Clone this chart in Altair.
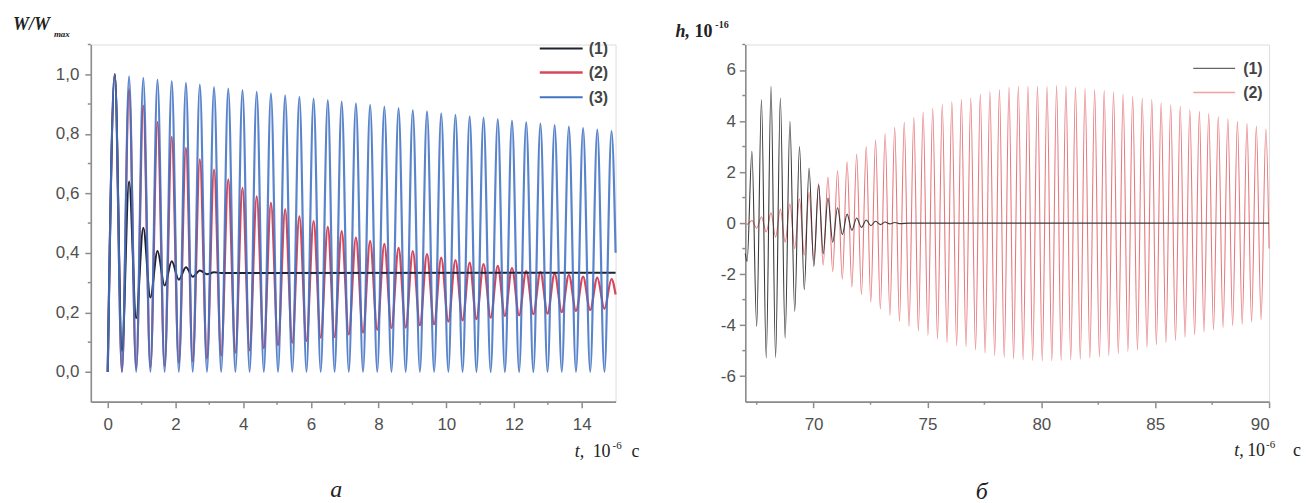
import altair as alt
import pandas as pd

# ---------------- panel "а": W/Wmax vs t (10^-6 s) ----------------
T_TROUGH_A = [0.0, 0.42, 0.84, 1.26, 1.68, 2.10, 2.51, 2.93, 3.35, 3.77, 4.19, 4.61,
              5.03, 5.45, 5.87, 6.29, 6.70, 7.12, 7.54, 7.96, 8.38, 8.80, 9.22, 9.64,
              10.06, 10.48, 10.89, 11.31, 11.73, 12.15, 12.57, 12.99, 13.41, 13.83, 14.25, 14.67]
T_PEAK_A = [0.21, 0.63, 1.05, 1.47, 1.89, 2.31, 2.72, 3.14, 3.56, 3.98, 4.40, 4.82,
            5.24, 5.66, 6.08, 6.50, 6.91, 7.33, 7.75, 8.17, 8.59, 9.01, 9.43, 9.85,
            10.27, 10.69, 11.10, 11.52, 11.94, 12.36, 12.78, 13.20, 13.62, 14.04, 14.46, 14.88]
W3_PEAK = [1.0, 0.993, 0.988, 0.982, 0.977, 0.971, 0.965, 0.957, 0.952, 0.947,
           0.941, 0.936, 0.929, 0.924, 0.918, 0.913, 0.908, 0.902, 0.897, 0.891,
           0.886, 0.880, 0.875, 0.869, 0.864, 0.859, 0.854, 0.849, 0.844, 0.839,
           0.834, 0.829, 0.824, 0.819, 0.814, 0.809]
W3_TROUGH = [0.0, 0.0, 0.0, 0.0, 0.0, 0.0, 0.0, 0.0, 0.0, 0.0, 0.0, 0.0,
             0.0, 0.0, 0.0, 0.0, 0.0, 0.0, 0.0, 0.0, 0.0, 0.0, 0.0, 0.0,
             0.0, 0.0, 0.0, 0.0, 0.0, 0.0, 0.0, 0.0, 0.0, 0.0, 0.0, 0.0]
W2_PEAK = [1.0, 0.95, 0.895, 0.839, 0.79, 0.753, 0.714, 0.68, 0.647, 0.618,
           0.59, 0.568, 0.546, 0.523, 0.507, 0.487, 0.473, 0.451, 0.44, 0.43,
           0.417, 0.406, 0.396, 0.384, 0.376, 0.367, 0.362, 0.356, 0.349, 0.339,
           0.336, 0.33, 0.326, 0.32, 0.317, 0.312]
W2_TROUGH = [0.0, 0.0, 0.01, 0.015, 0.02, 0.03, 0.035, 0.045, 0.055, 0.065,
             0.072, 0.08, 0.09, 0.098, 0.104, 0.115, 0.117, 0.126, 0.132, 0.141,
             0.147, 0.149, 0.157, 0.16, 0.169, 0.173, 0.177, 0.182, 0.188, 0.19,
             0.194, 0.196, 0.201, 0.205, 0.208, 0.212]
T_END_A = 15.0
W3_END = 0.40
W2_END = 0.26
T_W1 = [0.0, 0.21, 0.42, 0.63, 0.84, 1.05, 1.26, 1.47, 1.68, 1.89, 2.10, 2.31,
        2.51, 2.72, 2.93, 3.14, 3.35, 15.0]
W1 = [0.0, 1.0, 0.07, 0.64, 0.18, 0.484, 0.25, 0.406, 0.29, 0.372, 0.31, 0.352,
      0.32, 0.341, 0.328, 0.335, 0.332, 0.333]

X_TICKS_A = [0, 2, 4, 6, 8, 10, 12, 14]
X_MINOR_A = [1, 3, 5, 7, 9, 11, 13]
Y_TICKS_A = [0.0, 0.2, 0.4, 0.6, 0.8, 1.0]
Y_MINOR_A = [0.1, 0.3, 0.5, 0.7, 0.9, 1.1]

# ---------------- panel "б": h (10^-16) vs t (10^-6 s) ----------------
T_TROUGH_B = [67.08, 67.50, 67.92, 68.33, 68.75, 69.17, 69.59, 70.01, 70.42, 70.84,
              71.26, 71.68, 72.10, 72.51, 72.93, 73.35, 73.77, 74.19, 74.60, 75.02,
              75.44, 75.86, 76.28, 76.69, 77.11, 77.53, 77.95, 78.37, 78.78, 79.20,
              79.62, 80.04, 80.46, 80.87, 81.29, 81.71, 82.13, 82.55, 82.96, 83.38,
              83.80, 84.22, 84.64, 85.05, 85.47, 85.89, 86.31, 86.73, 87.14, 87.56,
              87.98, 88.40, 88.82, 89.23, 89.65]
T_PEAK_B = [67.29, 67.71, 68.13, 68.54, 68.96, 69.38, 69.80, 70.22, 70.63, 71.05,
            71.47, 71.89, 72.31, 72.72, 73.14, 73.56, 73.98, 74.40, 74.81, 75.23,
            75.65, 76.07, 76.49, 76.90, 77.32, 77.74, 78.16, 78.58, 78.99, 79.41,
            79.83, 80.25, 80.67, 81.08, 81.50, 81.92, 82.34, 82.76, 83.17, 83.59,
            84.01, 84.43, 84.85, 85.26, 85.68, 86.10, 86.52, 86.94, 87.35, 87.77,
            88.19, 88.61, 89.03, 89.44, 89.86]
H2_TROUGH = [-0.05, -0.2, -0.35, -0.55, -0.75, -1.0, -1.25, -1.45, -1.65, -1.9,
             -2.2, -2.5, -2.8, -3.1, -3.37, -3.62, -3.85, -4.05, -4.23, -4.4,
             -4.55, -4.68, -4.8, -4.84, -4.97, -5.1, -5.19, -5.27, -5.33, -5.36,
             -5.38, -5.4, -5.4, -5.38, -5.36, -5.33, -5.29, -5.25, -5.19, -5.12,
             -5.03, -4.97, -4.87, -4.77, -4.68, -4.6, -4.48, -4.38, -4.27, -4.18,
             -4.09, -4.01, -3.96, -3.88, -3.79]
H2_PEAK = [0.1, 0.25, 0.4, 0.55, 0.75, 0.95, 1.2, 1.55, 1.8, 2.05,
           2.4, 2.7, 3.0, 3.25, 3.5, 3.75, 3.95, 4.15, 4.35, 4.5,
           4.65, 4.75, 4.85, 4.90, 5.06, 5.16, 5.23, 5.32, 5.35, 5.36,
           5.36, 5.35, 5.39, 5.36, 5.32, 5.27, 5.23, 5.19, 5.14, 5.06,
           4.97, 4.90, 4.84, 4.71, 4.64, 4.58, 4.45, 4.38, 4.29, 4.18,
           4.09, 3.99, 3.90, 3.80, 3.69]
T_START_B = 67.0
H2_START = 0.0
T_END_B = 90.0
H2_END = -1.0
H1_TROUGH = [-1.5, -4.05, -5.29, -5.27, -4.51, -3.46, -2.61, -1.7, -1.2, -0.75,
             -0.45, -0.28, -0.17, -0.1, -0.06, -0.03, -0.02]
H1_PEAK = [2.81, 4.84, 5.36, 4.9, 3.99, 3.0, 2.16, 1.5, 0.98, 0.6,
           0.35, 0.2, 0.12, 0.07, 0.04, 0.02]
H1_START = -1.2
H1_TAIL_T = [74.2, 90.0]
H1_TAIL = [0.0, 0.0]

X_TICKS_B = [70, 75, 80, 85, 90]
X_MINOR_B = [67.5, 72.5, 77.5, 82.5, 87.5]
Y_TICKS_B = [-6, -4, -2, 0, 2, 4, 6]
Y_MINOR_B = [-5, -3, -1, 1, 3, 5, 7]

LEGEND_A = ["(1)", "(2)", "(3)"]
LEGEND_B = ["(1)", "(2)"]


def build(pairs):
    rows = sorted(pairs)
    return pd.DataFrame(rows, columns=["t", "v"])


df_w3 = build(list(zip(T_TROUGH_A, W3_TROUGH)) + list(zip(T_PEAK_A, W3_PEAK)) + [(T_END_A, W3_END)])
df_w2 = build(list(zip(T_TROUGH_A, W2_TROUGH)) + list(zip(T_PEAK_A, W2_PEAK)) + [(T_END_A, W2_END)])
df_w1 = build(list(zip(T_W1, W1)))
df_h2 = build([(T_START_B, H2_START)] + list(zip(T_TROUGH_B, H2_TROUGH)) + list(zip(T_PEAK_B, H2_PEAK)) + [(T_END_B, H2_END)])
df_h1 = build([(T_START_B, H1_START)] + list(zip(T_TROUGH_B[:len(H1_TROUGH)], H1_TROUGH))
              + list(zip(T_PEAK_B[:len(H1_PEAK)], H1_PEAK)) + list(zip(H1_TAIL_T, H1_TAIL)))

W_A, W_B, H = 526, 525, 358
AX = "#8c8c8c"
LBL = "#505050"
BLUE, RED, BLACK = "#4273c4", "#d6475a", "#1f2233"
RED_B, BLACK_B = "#e46a6f", "#3a3a3a"


def axis(values, pad, expr):
    return alt.Axis(values=values, title=None, grid=False, domainColor=AX, domainWidth=1.6,
                    tickColor=AX, tickWidth=1.5, tickSize=6, labelPadding=pad,
                    labelFont="Liberation Sans", labelFontSize=17, labelColor=LBL,
                    labelExpr=expr, labelOverlap=False)


comma = "replace(format(datum.value, '.1f'), '.', ',')"
plain = "'' + datum.value"

xA = alt.X("t:Q", scale=alt.Scale(domain=[-0.5, 15], nice=False, zero=False), axis=axis(X_TICKS_A, 9, plain))
yA = alt.Y("v:Q", scale=alt.Scale(domain=[-0.1, 1.1], nice=False, zero=False), axis=axis(Y_TICKS_A, 6, comma))
xB = alt.X("t:Q", scale=alt.Scale(domain=[67, 90], nice=False, zero=False), axis=axis(X_TICKS_B, 9, plain))
yB = alt.Y("v:Q", scale=alt.Scale(domain=[-7, 7], nice=False, zero=False), axis=axis(Y_TICKS_B, 4, plain))


def text(label, x, y, size, style="normal", weight="normal", color="#222", font="Liberation Serif", align="left"):
    return alt.Chart(pd.DataFrame({"s": [label]})).mark_text(
        font=font, fontSize=size, fontStyle=style, fontWeight=weight, color=color,
        align=align, baseline="alphabetic").encode(text="s:N", x=alt.value(x), y=alt.value(y))


def seg(x1, x2, y, color, w):
    return alt.Chart(pd.DataFrame({"a": [0]})).mark_rule(color=color, strokeWidth=w).encode(
        x=alt.value(x1), x2=alt.value(x2), y=alt.value(y))


def minor(xenc, yenc, xs, ys, h):
    mx = alt.Chart(pd.DataFrame({"t": xs})).mark_rule(color=AX, strokeWidth=1.5).encode(
        x=xenc, y=alt.value(h), y2=alt.value(h + 3))
    my = alt.Chart(pd.DataFrame({"v": ys})).mark_rule(color=AX, strokeWidth=1.5).encode(
        y=yenc, x=alt.value(0), x2=alt.value(-3))
    return mx, my


mxA, myA = minor(xA, yA, X_MINOR_A, Y_MINOR_A, H)
mxB, myB = minor(xB, yB, X_MINOR_B, Y_MINOR_B, H)

line = dict(interpolate="monotone")
left = alt.layer(
    alt.Chart(df_w2).mark_line(color=RED, strokeWidth=2.2, **line).encode(x=xA, y=yA),
    alt.Chart(df_w1).mark_line(color=BLACK, strokeWidth=2.0, **line).encode(x=xA, y=yA),
    alt.Chart(df_w3).mark_line(color=BLUE, strokeWidth=2.2, opacity=0.88, **line).encode(x=xA, y=yA),
    mxA, myA,
    seg(450, 493, 4, BLACK, 2), seg(450, 493, 28, RED, 2.5), seg(450, 493, 53, BLUE, 2),
    text(LEGEND_A[0], 499, 10, 16, weight="bold", color="#444", font="Liberation Sans"),
    text(LEGEND_A[1], 499, 34, 16, weight="bold", color="#444", font="Liberation Sans"),
    text(LEGEND_A[2], 499, 59, 16, weight="bold", color="#444", font="Liberation Sans"),
    text("W/W", -78, -15, 18, style="italic", weight="bold"),
    text("max", -37, -8, 9, style="italic", weight="bold"),
    text("t,", 485, 413, 18, style="italic"),
    text("10", 503, 413, 18),
    text("-6", 523, 405, 11),
    text("с", 542, 413, 18),
    text("а", 240, 454, 24, style="italic"),
).properties(width=W_A, height=H)

right = alt.layer(
    alt.Chart(df_h2).mark_line(color=RED_B, strokeWidth=1.1, opacity=0.9, **line).encode(x=xB, y=yB),
    alt.Chart(df_h1).mark_line(color=BLACK_B, strokeWidth=1.1, **line).encode(x=xB, y=yB),
    mxB, myB,
    seg(449, 491, 24, "#666", 1.2), seg(449, 491, 48, "#f0a0a0", 1.5),
    text(LEGEND_B[0], 499, 30, 16, weight="bold", color="#444", font="Liberation Sans"),
    text(LEGEND_B[1], 499, 54, 16, weight="bold", color="#444", font="Liberation Sans"),
    text("h,", -70, -8, 18, style="italic", weight="bold"),
    text("10", -51, -8, 18, weight="bold"),
    text("-16", -30, -17, 10, weight="bold"),
    text("t,", 490, 412, 18, style="italic"),
    text("10", 503, 412, 18),
    text("-6", 522, 404, 11),
    text("с", 549, 412, 18),
    text("б", 231, 456, 24, style="italic"),
).properties(width=W_B, height=H)

chart = alt.hconcat(left, right, spacing=34).properties(
    padding={"left": 4, "top": 6, "right": 0, "bottom": 0}
).configure_view(stroke=None).configure(background="white")

chart.save("out.html", embed_options={"renderer": "svg", "actions": False})
